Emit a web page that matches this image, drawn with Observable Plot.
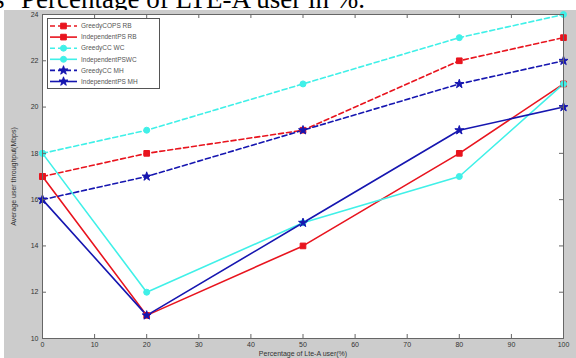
<!DOCTYPE html>
<html>
<head>
<meta charset="utf-8">
<script src="https://cdn.jsdelivr.net/npm/d3@7"></script>
<script src="https://cdn.jsdelivr.net/npm/@observablehq/plot@0.6"></script>
<style>
  html, body { margin: 0; padding: 0; background: #ffffff; }
  body { width: 576px; height: 358px; overflow: hidden; position: relative; font-family: "Liberation Sans", Arial, sans-serif; }
  #title { position: absolute; left: 0; top: 0; }
  #chart { position: absolute; left: 4px; top: 10px; }
  #legend { position: absolute; left: 47px; top: 18px; }
</style>
</head>
<body>
<svg id="title" width="576" height="10"></svg>
<div id="chart"></div>
<svg id="legend" width="113" height="71"></svg>
<script>
// ---- data ----
const xValues = [0, 20, 50, 80, 100];
const seriesNames = ["GreedyCOPS RB", "IndependentPS RB", "GreedyCC WC", "IndependentPSWC", "GreedyCC MH", "IndependentPS MH"];
const greedyRB = [17, 18, 19, 22, 23];
const indepRB  = [17, 11, 14, 18, 21];
const greedyWC = [18, 19, 21, 23, 24];
const indepWC  = [18, 12, 15, 17, 21];
const greedyMH = [16, 17, 19, 21, 22];
const indepMH  = [16, 11, 15, 19, 20];
const xTicks = [0, 10, 20, 30, 40, 50, 60, 70, 80, 90, 100];
const yTicks = [10, 12, 14, 16, 18, 20, 22, 24];
const titleText = "Percentage of LTE-A user in %.";
const xLabel = "Percentage of Lte-A user(%)";
const yLabel = "Average user throughput(Mbps)";

// ---- styling ----
const seriesValues = [greedyRB, indepRB, greedyWC, indepWC, greedyMH, indepMH];
const styles = [
  {color: "#e8141e", dash: "5,3", symbol: "square", r: 3.2},
  {color: "#e8141e", dash: null,  symbol: "square", r: 3.2},
  {color: "#40f0e8", dash: "5,3", symbol: "circle", r: 3},
  {color: "#40f0e8", dash: null,  symbol: "circle", r: 3},
  {color: "#1616b0", dash: "5,3", symbol: "star", r: 2.8},
  {color: "#1616b0", dash: null,  symbol: "star", r: 2.8}
];

// title (cropped caption from a document)
const tsvg = d3.select("#title");
tsvg.append("text").attr("x", -6).attr("y", 8)
  .attr("font-family", "'Liberation Serif','Times New Roman',serif").attr("font-size", 27).attr("fill", "#000").text("s");
tsvg.append("text").attr("x", 21).attr("y", 8)
  .attr("font-family", "'Liberation Serif','Times New Roman',serif").attr("font-size", 27).attr("fill", "#000").text(titleText);

// ---- chart ----
const W = 572, H = 348, mL = 38, mR = 13, mT = 4, mB = 20;
const innerW = W - mL - mR, innerH = H - mT - mB;

const marks = [Plot.frame({fill: "#ffffff", stroke: null})];
seriesNames.forEach((name, i) => {
  const rows = xValues.map((x, j) => ({x, y: seriesValues[i][j]}));
  const s = styles[i];
  marks.push(Plot.line(rows, {x: "x", y: "y", stroke: s.color, strokeWidth: 1.6, strokeDasharray: s.dash}));
});
seriesNames.forEach((name, i) => {
  const rows = xValues.map((x, j) => ({x, y: seriesValues[i][j]}));
  const s = styles[i];
  marks.push(Plot.dot(rows, {x: "x", y: "y", symbol: () => s.symbol, r: s.r, fill: s.color, stroke: s.color, strokeWidth: 1}));
});
marks.push(
  Plot.tickX(xTicks, {x: d => d, insetTop: innerH - 4, stroke: "#666"}),
  Plot.tickX(xTicks, {x: d => d, insetBottom: innerH - 4, stroke: "#666"}),
  Plot.tickY(yTicks, {y: d => d, insetRight: innerW - 4, stroke: "#666"}),
  Plot.tickY(yTicks, {y: d => d, insetLeft: innerW - 4, stroke: "#666"}),
  Plot.frame({stroke: "#666", strokeWidth: 1}),
  Plot.axisX({ticks: xTicks, tickSize: 0, tickPadding: 4, tickFormat: d => String(d), fontSize: 7, fill: "#333",
    label: xLabel, labelAnchor: "center", labelArrow: "none", labelOffset: 17}),
  Plot.axisY({ticks: yTicks, tickSize: 0, tickPadding: 4, tickFormat: d => String(d), fontSize: 7, fill: "#333",
    label: yLabel, labelAnchor: "center", labelArrow: "none", labelOffset: 31})
);

const chart = Plot.plot({
  width: W, height: H,
  marginLeft: mL, marginRight: mR, marginTop: mT, marginBottom: mB,
  style: {background: "#cccccc", fontFamily: "'Liberation Sans', Arial, sans-serif", fontSize: "7px", color: "#333"},
  x: {domain: [0, 100]},
  y: {domain: [10, 24]},
  marks
});
document.getElementById("chart").appendChild(chart);

// ---- legend ----
const lg = d3.select("#legend");
lg.append("rect").attr("x", 0.5).attr("y", 0.5).attr("width", 112).attr("height", 70)
  .attr("fill", "#fff").attr("stroke", "#555");
const symMap = {square: d3.symbolSquare, circle: d3.symbolCircle, star: d3.symbolStar};
seriesNames.forEach((name, i) => {
  const s = styles[i];
  const cy = 8 + i * 11.1;
  lg.append("line").attr("x1", 3).attr("x2", 30).attr("y1", cy).attr("y2", cy)
    .attr("stroke", s.color).attr("stroke-width", 1.6).attr("stroke-dasharray", s.dash);
  lg.append("path").attr("d", d3.symbol(symMap[s.symbol], Math.PI * s.r * s.r)())
    .attr("transform", `translate(16.5,${cy})`).attr("fill", s.color).attr("stroke", s.color);
  lg.append("text").attr("x", 34).attr("y", cy).attr("dy", "0.35em")
    .attr("font-size", 6.5).attr("fill", "#555").attr("font-family", "'Liberation Sans', Arial, sans-serif").text(name);
});
</script>
</body>
</html>
